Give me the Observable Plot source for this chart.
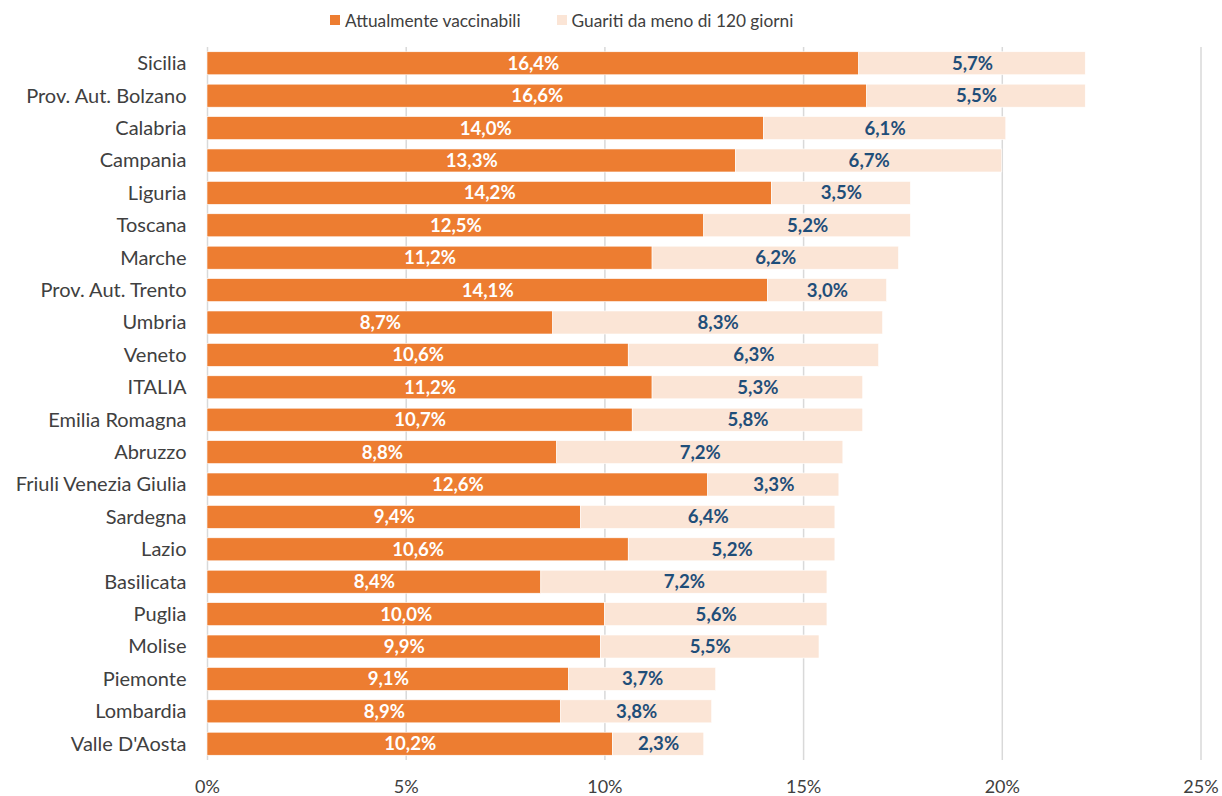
<!DOCTYPE html>
<html>
<head>
<meta charset="utf-8">
<script src="https://cdn.jsdelivr.net/npm/d3@7"></script>
<script src="https://cdn.jsdelivr.net/npm/@observablehq/plot@0.6"></script>
<style>
  html, body { margin: 0; padding: 0; background: #fff; }
  body { width: 1222px; font-family: Lato, "Open Sans", sans-serif; }
  .legend { height: 40px; display: flex; justify-content: flex-start; align-items: center; gap: 36px; font-size: 17.3px; color: #404040; padding-left: 330px; box-sizing: border-box; }
  .legend span.item { display: flex; align-items: center; }
  .legend span.sw { display: inline-block; width: 10px; height: 10px; margin-right: 5px; }
  #chart svg { display: block; }
</style>
</head>
<body>
<div id="legend" class="legend"></div>
<div id="chart"></div>
<script>
const regions = ["Sicilia", "Prov. Aut. Bolzano", "Calabria", "Campania", "Liguria", "Toscana", "Marche", "Prov. Aut. Trento", "Umbria", "Veneto", "ITALIA", "Emilia Romagna", "Abruzzo", "Friuli Venezia Giulia", "Sardegna", "Lazio", "Basilicata", "Puglia", "Molise", "Piemonte", "Lombardia", "Valle D'Aosta"];
const vaccinabili = [16.4, 16.6, 14.0, 13.3, 14.2, 12.5, 11.2, 14.1, 8.7, 10.6, 11.2, 10.7, 8.8, 12.6, 9.4, 10.6, 8.4, 10.0, 9.9, 9.1, 8.9, 10.2];
const guariti = [5.7, 5.5, 6.1, 6.7, 3.5, 5.2, 6.2, 3.0, 8.3, 6.3, 5.3, 5.8, 7.2, 3.3, 6.4, 5.2, 7.2, 5.6, 5.5, 3.7, 3.8, 2.3];
const seriesNames = ["Attualmente vaccinabili", "Guariti da meno di 120 giorni"];
const xTicks = [0, 5, 10, 15, 20, 25];

const colors = ["#ED7D31", "#FBE5D6"];
const textColors = ["#ffffff", "#1F4E79"];

const data = [];
regions.forEach((r, i) => {
  data.push({region: r, series: seriesNames[0], value: vaccinabili[i], si: 0});
  data.push({region: r, series: seriesNames[1], value: guariti[i], si: 1});
});

const fmt = v => d3.format(".1f")(v).replace(".", ",") + "%";

// legend
const leg = document.getElementById("legend");
seriesNames.forEach((s, i) => {
  const it = document.createElement("span");
  it.className = "item";
  const sw = document.createElement("span");
  sw.className = "sw";
  sw.style.background = colors[i];
  it.appendChild(sw);
  it.appendChild(document.createTextNode(s));
  leg.appendChild(it);
});

const chart = Plot.plot({
  width: 1222,
  height: 756,
  marginLeft: 207,
  marginRight: 21.5,
  marginTop: 7,
  marginBottom: 36,
  style: {fontFamily: "Lato, 'Open Sans', sans-serif", fontSize: "18px", color: "#404040", background: "#fff"},
  x: {domain: [0, 25], ticks: xTicks, tickFormat: d => d + "%", label: null},
  y: {domain: regions, paddingInner: 0.29, paddingOuter: 0.147, round: false, label: null},
  color: {domain: seriesNames, range: colors},
  marks: [
    Plot.ruleX(xTicks, {stroke: "#d9d9d9", strokeWidth: 1.5}),
    Plot.barX(data, Plot.stackX({x: "value", y: "region", z: "series", fill: "series", stroke: "#fff", strokeWidth: 0.6, order: null})),
    Plot.text(data, Plot.stackX({x: "value", y: "region", z: "series", order: null, text: d => fmt(d.value), fill: d => textColors[d.si], fontWeight: "bold", fontSize: 18.6})),
    Plot.axisX({ticks: xTicks, tickFormat: d => d + "%", tickSize: 0, tickPadding: 20, fontSize: 18}),
    Plot.axisY({tickSize: 0, tickPadding: 21, fontSize: 20})
  ]
});
document.getElementById("chart").appendChild(chart);
</script>
</body>
</html>
